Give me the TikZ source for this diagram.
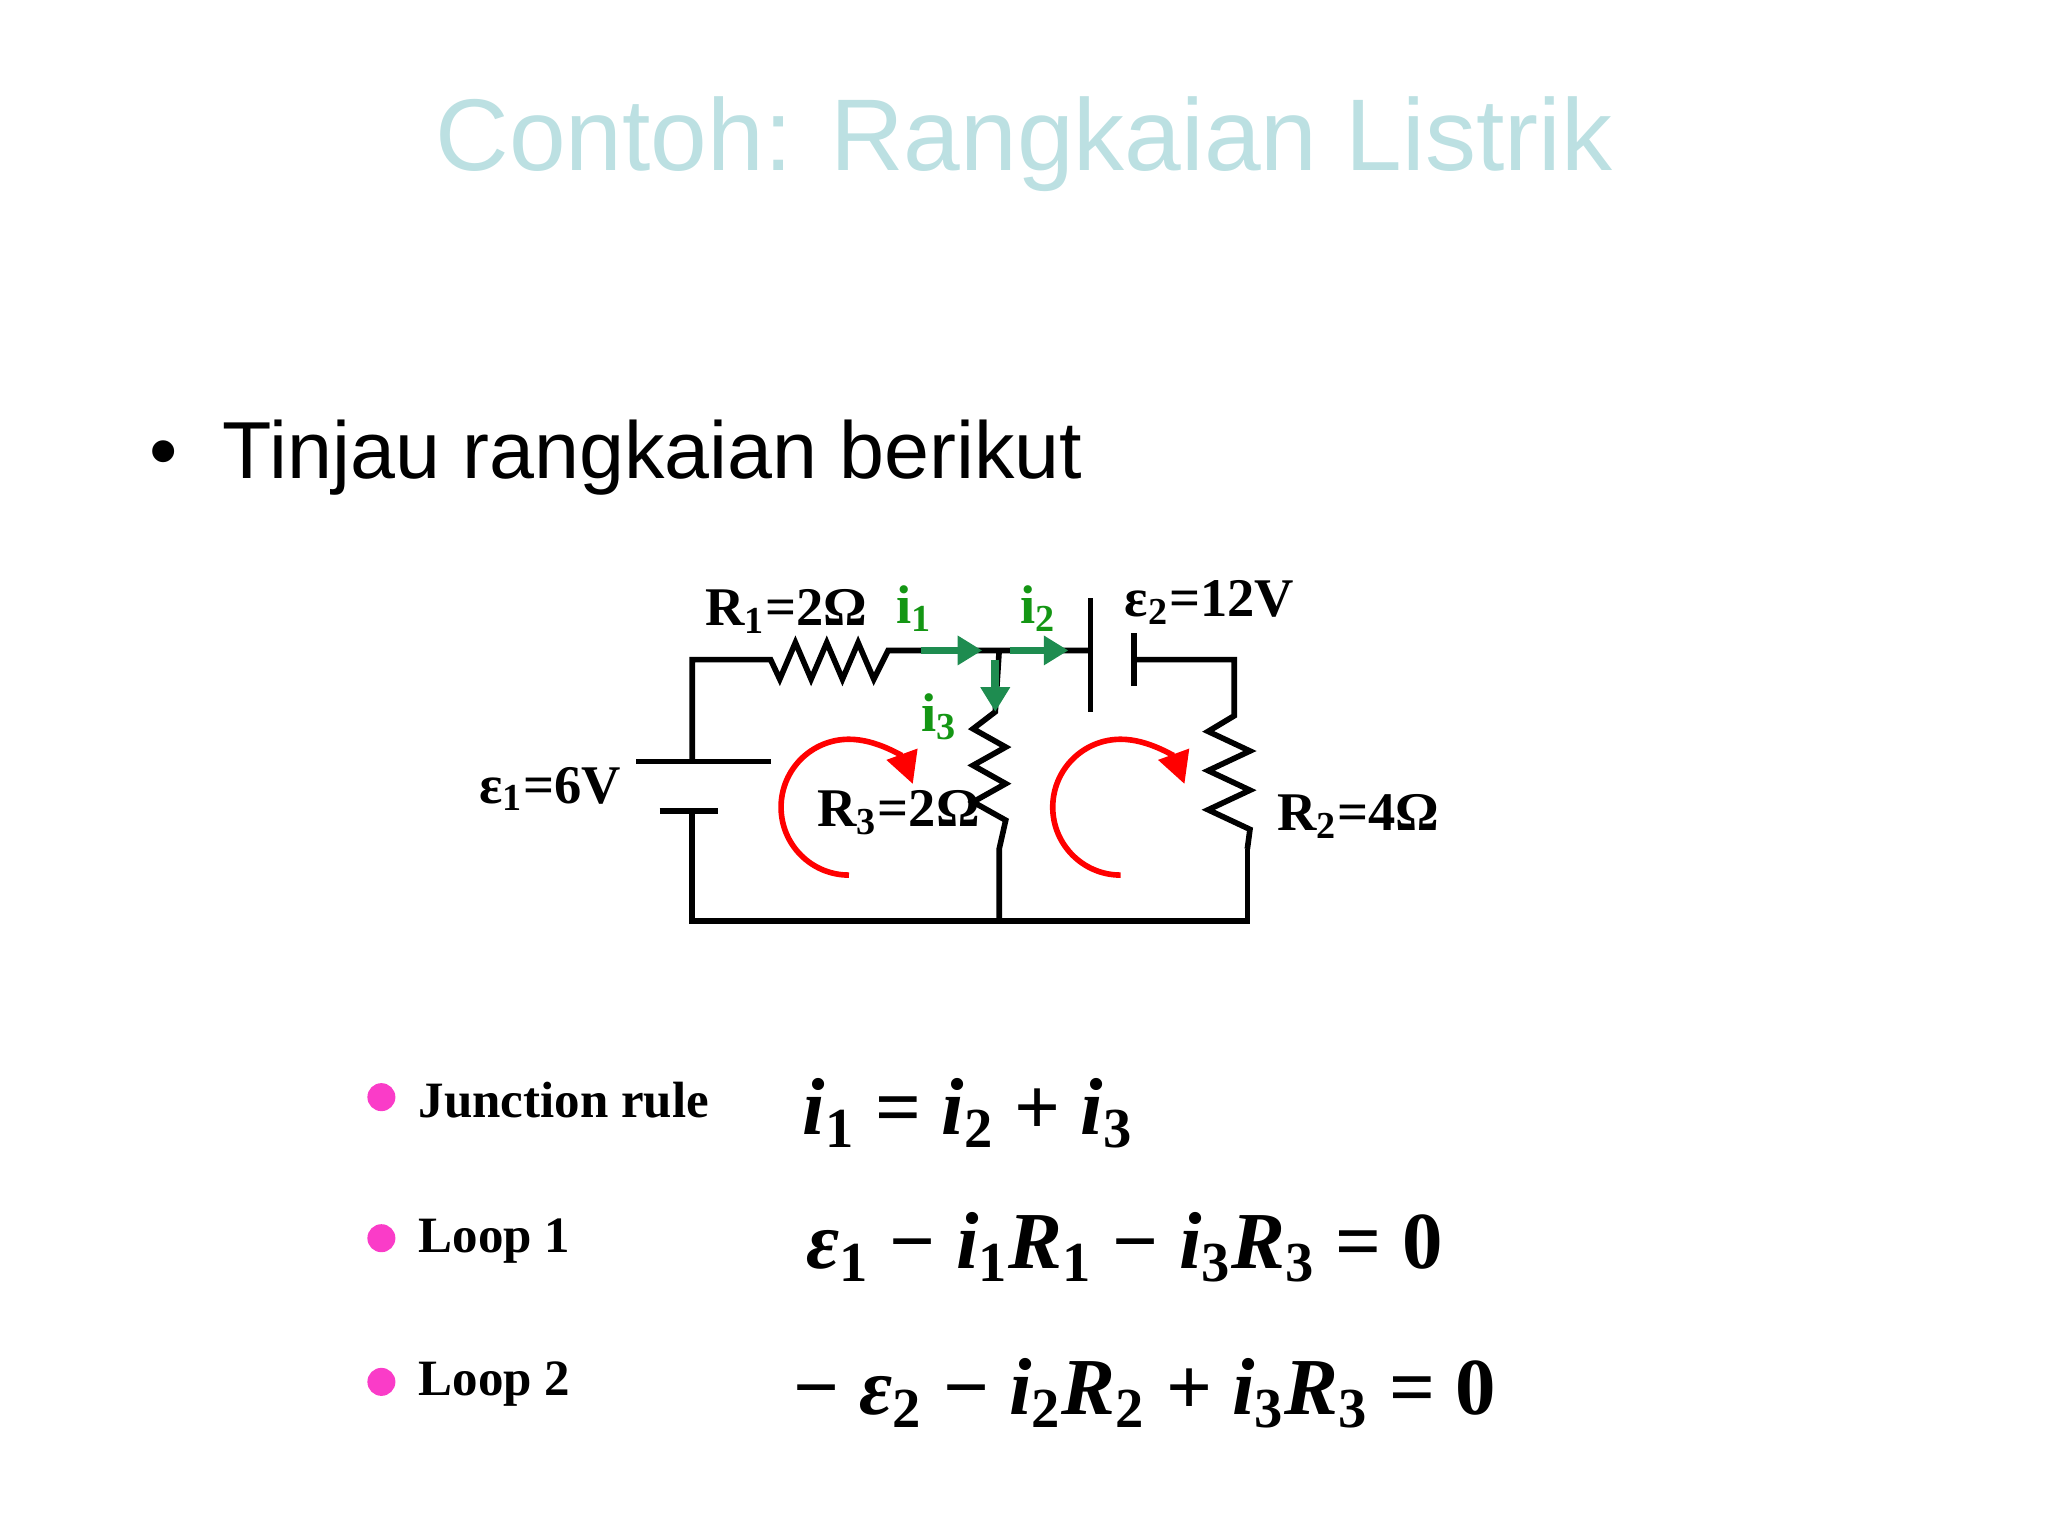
\documentclass[tikz,border=0pt]{standalone}
\usepackage{fontspec}
\setmainfont{Liberation Serif}
\newfontfamily\arial{Liberation Sans}
\usetikzlibrary{arrows.meta}
\definecolor{ttl}{RGB}{188,224,226}
\definecolor{grn}{RGB}{30,140,80}
\definecolor{lblg}{RGB}{20,150,20}
\definecolor{pnk}{RGB}{250,60,200}
\tikzset{wire/.style={line width=1.6pt},
 garr/.style={line width=2.2pt,grn,-{Triangle[length=7pt,width=8pt]}},
 rarr/.style={line width=1.6pt,red,-{Triangle[length=9pt,width=9pt]}},
 lbl/.style={font=\bfseries\fontsize{15.5}{15.5}\selectfont,inner sep=0},
 glbl/.style={lbl,text=lblg},
 dot/.style={circle,fill=pnk,minimum size=0.28cm,inner sep=0},
 item/.style={font=\bfseries\fontsize{14.5}{14.5}\selectfont,anchor=west,inner sep=0},
 eq/.style={font=\bfseries\itshape\fontsize{23}{23}\selectfont,anchor=west,inner sep=0}}
\begin{document}
\begin{tikzpicture}[x=0.013061cm,y=-0.013061cm]
\useasboundingbox (0,0) rectangle (1568,1176);
\node[font=\arial\fontsize{29}{29}\selectfont,text=ttl] (title) at (784,110) {Contoh: Rangkaian Listrik};
\node[font=\arial\fontsize{23}{23}\selectfont,anchor=west] (b) at (105,350) {•\hspace{0.45cm}Tinjau rangkaian berikut};
% wires
\draw[wire] (530,583) -- (530,505) -- (590,505)
 -- (597,520) -- (609,492) -- (621,520) -- (633,492) -- (645,520) -- (657,492) -- (669,520) -- (680,498) -- (835,498);
\draw[wire] (530,621) -- (530,705) -- (955,705) -- (955,650);
\draw[wire] (487,583) -- (590,583);
\draw[wire] (505,621) -- (550,621);
\draw[wire] (835,458) -- (835,545);
\draw[wire] (868,485) -- (868,525);
\draw[wire] (868,505) -- (945,505) -- (945,548)
 -- (925,560) -- (957,575) -- (925,590) -- (957,605) -- (925,620) -- (957,635) -- (955,650);
\draw[wire] (765,498) -- (762,545)
 -- (745,558) -- (770,572) -- (745,586) -- (770,600) -- (745,614) -- (770,628) -- (765,650) -- (765,705);
% current arrows
\draw[garr] (705,498) -- (752,498);
\draw[garr] (773,498) -- (818,498);
\draw[garr] (762,505) -- (762,545);
\node[glbl] (i1) at (700,466) {i\textsubscript{1}};
\node[glbl] (i2) at (795,466) {i\textsubscript{2}};
\node[glbl] (i3) at (719,549) {i\textsubscript{3}};
% loops
\draw[rarr] (650,670) arc[start angle=90,end angle=340,radius=52];
\draw[rarr] (858,670) arc[start angle=90,end angle=340,radius=52];
% labels
\node[lbl] (r1) at (602,468) {R\textsubscript{1}=2Ω};
\node[lbl] (e2) at (926,461) {ε\textsubscript{2}=12V};
\node[lbl] (e1) at (421,604) {ε\textsubscript{1}=6V};
\node[lbl] (r3) at (688,622) {R\textsubscript{3}=2Ω};
\node[lbl] (r2) at (1040,625) {R\textsubscript{2}=4Ω};
% items
\node[dot] (d1) at (292,840) {};
\node[dot] (d2) at (292,948) {};
\node[dot] (d3) at (292,1058) {};
\node[item] (t1) at (320,842) {Junction rule};
\node[item] (t2) at (320,950) {Loop 1};
\node[item] (t3) at (320,1060) {Loop 2};
\node[eq] (q1) at (614,852) {i\textsubscript{\upshape1} \upshape= \itshape i\textsubscript{\upshape2} \upshape+ \itshape i\textsubscript{\upshape3}};
\node[eq] (q2) at (617,955) {ε\textsubscript{\upshape1} \upshape− \itshape i\textsubscript{\upshape1}R\textsubscript{\upshape1} \upshape− \itshape i\textsubscript{\upshape3}R\textsubscript{\upshape3} \upshape= 0};
\node[eq] (q3) at (607,1067) {\upshape− \itshape ε\textsubscript{\upshape2} \upshape− \itshape i\textsubscript{\upshape2}R\textsubscript{\upshape2} \upshape+ \itshape i\textsubscript{\upshape3}R\textsubscript{\upshape3} \upshape= 0};
\end{tikzpicture}
\end{document}
